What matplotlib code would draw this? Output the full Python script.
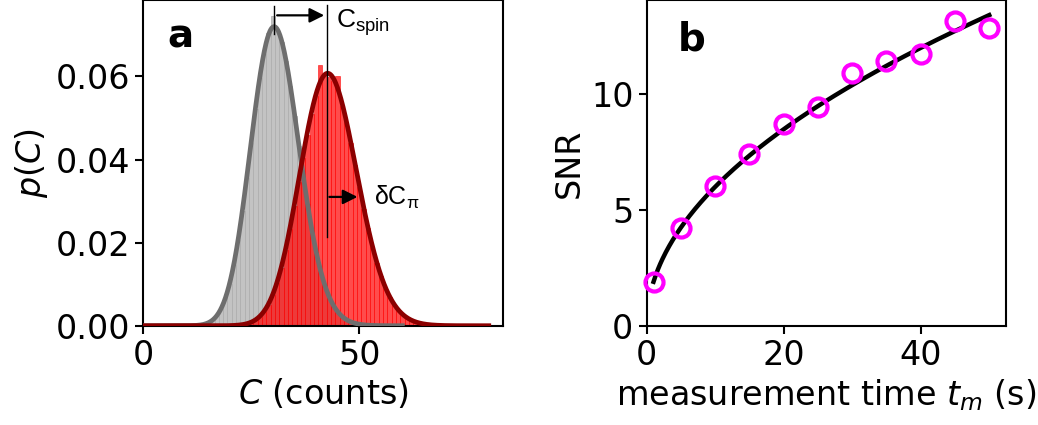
import math
import numpy as np
import matplotlib
matplotlib.use("Agg")
import matplotlib.pyplot as plt

# ---------------- data ----------------
# panel a: histograms of photon counts (bin = integer count)
gray_counts = list(range(14, 50))
gray_prob = [0.0003, 0.0007, 0.0013, 0.0024, 0.0041, 0.0066, 0.0100, 0.0147,
             0.0206, 0.0277, 0.0356, 0.0440, 0.0522, 0.0595, 0.0655, 0.0705,
             0.0745, 0.0710, 0.0682, 0.0636, 0.0576, 0.0505, 0.0432, 0.0360,
             0.0292, 0.0230, 0.0177, 0.0133, 0.0097, 0.0070, 0.0049, 0.0033,
             0.0022, 0.0014, 0.0009, 0.0005]
red_counts = list(range(25, 65))
red_prob = [0.0008, 0.0013, 0.0022, 0.0034, 0.0050, 0.0073, 0.0102, 0.0139,
            0.0182, 0.0232, 0.0287, 0.0345, 0.0404, 0.0460, 0.0510, 0.0552,
            0.0627, 0.0600, 0.0598, 0.0590, 0.0602, 0.0530, 0.0490, 0.0440,
            0.0386, 0.0333, 0.0282, 0.0234, 0.0190, 0.0152, 0.0119, 0.0091,
            0.0069, 0.0051, 0.0037, 0.0026, 0.0018, 0.0012, 0.0008, 0.0005]
# fitted Poisson means
gray_mean = 30.8
red_mean = 43.2
gray_fit_range = (0, 60)
red_fit_range = (0, 80)

# panel b: SNR vs measurement time
t_m = [1, 5, 10, 15, 20, 25, 30, 35, 40, 45, 50]
snr = [1.90, 4.24, 6.05, 7.42, 8.72, 9.46, 10.95, 11.44, 11.77, 13.17, 12.88]
snr_coeff = 1.9  # fit: SNR = a * sqrt(t_m)

# ---------------- figure ----------------
plt.rcParams['font.family'] = 'DejaVu Sans'
plt.rcParams['mathtext.fontset'] = 'dejavusans'
FS = 24

fig = plt.figure(figsize=(10.38, 4.25), dpi=100)
axA = fig.add_axes([0.138, 0.2336, 0.3466, 0.7655])
axB = fig.add_axes([0.623, 0.2336, 0.3462, 0.7655])

def poisson_curve(x, mu):
    return np.array([math.exp(xi * math.log(mu) - mu - math.lgamma(xi + 1)) for xi in x])

# panel a
axA.bar(gray_counts, gray_prob, width=1.0, color='#c3c3c3', edgecolor='#acacac',
        linewidth=0.5, zorder=1)
axA.bar(red_counts, red_prob, width=1.0, color=(1.0, 0.0, 0.0, 0.7),
        edgecolor=(1.0, 0.0, 0.0, 0.75), linewidth=0.5, zorder=2)
xg = np.linspace(*gray_fit_range, 600)
xr = np.linspace(*red_fit_range, 800)
axA.plot(xg, poisson_curve(xg, gray_mean), color='#6e6e6e', lw=3.4, zorder=3)
axA.plot(xr, poisson_curve(xr, red_mean), color='#8b0000', lw=3.4, zorder=4)

# annotations
axA.plot([30.3, 30.3], [0.0703, 0.0770], color='k', lw=1.0, zorder=5)
axA.plot([42.6, 42.6], [0.0214, 0.0772], color='k', lw=1.0, zorder=5)
axA.annotate('', xy=(41.9, 0.0747), xytext=(31.0, 0.0747),
             arrowprops=dict(arrowstyle='-|>', color='k', lw=1.6,
                             mutation_scale=22, shrinkA=0, shrinkB=0), zorder=6)
axA.annotate('', xy=(49.6, 0.0310), xytext=(43.1, 0.0310),
             arrowprops=dict(arrowstyle='-|>', color='k', lw=1.6,
                             mutation_scale=22, shrinkA=0, shrinkB=0), zorder=6)
axA.text(44.6, 0.0718, r'C$_\mathregular{spin}$', family='Liberation Sans',
         fontsize=19, va='baseline', ha='left')
axA.text(53.4, 0.0290, r'δC$_\mathregular{π}$', family='Liberation Sans',
         fontsize=18, va='baseline', ha='left')

axA.text(0.066, 0.856, 'a', transform=axA.transAxes, fontsize=28,
         fontweight='bold', va='baseline', ha='left')

axA.set_xlim(0, 83.3)
axA.set_ylim(0, 0.0783)
axA.set_xticks([0, 50])
axA.set_yticks([0, 0.02, 0.04, 0.06])
axA.set_yticklabels(['0.00', '0.02', '0.04', '0.06'])
axA.set_xlabel(r'$C$ (counts)', fontsize=FS)
axA.set_ylabel(r'$p(C)$', fontsize=FS)

# panel b
tt = np.linspace(min(t_m), max(t_m), 300)
axB.plot(tt, snr_coeff * np.sqrt(tt), color='k', lw=3.2, zorder=3)
axB.plot(t_m, snr, 'o', mfc='none', mec='magenta', ms=13, mew=3, zorder=4,
         clip_on=False)
axB.text(0.087, 0.846, 'b', transform=axB.transAxes, fontsize=28,
         fontweight='bold', va='baseline', ha='left')
axB.set_xlim(0, 52.45)
axB.set_ylim(0, 14.07)
axB.set_xticks([0, 20, 40])
axB.set_yticks([0, 5, 10])
axB.set_xlabel(r'measurement time $t_m$ (s)', fontsize=FS)
axB.set_ylabel('SNR', fontsize=FS)

for ax in (axA, axB):
    for s in ax.spines.values():
        s.set_linewidth(1.5)
    ax.tick_params(labelsize=FS, length=6, width=1.5)

fig.savefig('out.png', dpi=100)
